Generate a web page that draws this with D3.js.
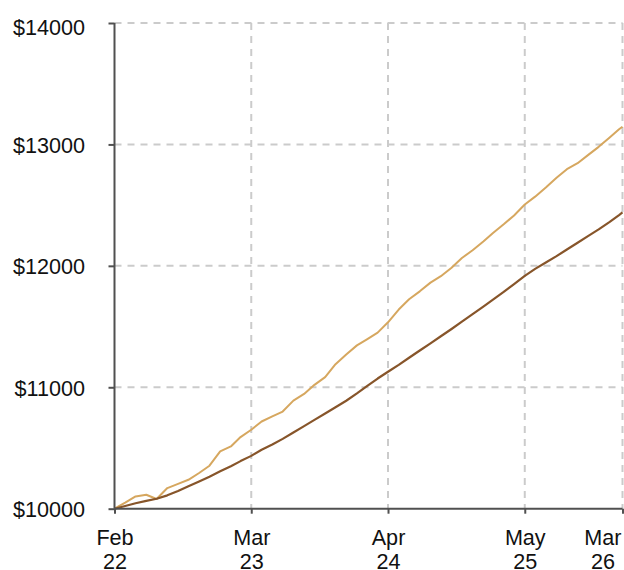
<!DOCTYPE html>
<html>
<head>
<meta charset="utf-8">
<script src="https://cdn.jsdelivr.net/npm/d3@7"></script>
<style>
  html, body { margin: 0; padding: 0; background: #fff; }
  svg { display: block; }
</style>
</head>
<body>
<script>
// ---- Data ----
const dates = [
  "2022-02-28","2022-03-31","2022-04-30","2022-05-31","2022-06-30","2022-07-31","2022-08-31","2022-09-30","2022-10-31","2022-11-30","2022-12-31",
  "2023-01-31","2023-02-28","2023-03-31","2023-04-30","2023-05-31","2023-06-30","2023-07-31","2023-08-31","2023-09-30","2023-10-31","2023-11-30","2023-12-31",
  "2024-01-31","2024-02-29","2024-03-31","2024-04-30","2024-05-31","2024-06-30","2024-07-31","2024-08-31","2024-09-30","2024-10-31","2024-11-30","2024-12-31",
  "2025-01-31","2025-02-28","2025-03-31","2025-04-30","2025-05-31","2025-06-30","2025-07-31","2025-08-31","2025-09-30","2025-10-31","2025-11-30","2025-12-31",
  "2026-01-31","2026-02-28","2026-03-10"
];
const seriesLight = [
  10000,10050,10101,10115,10080,10170,10205,10238,10294,10354,10472,
  10513,10590,10650,10718,10760,10800,10890,10945,11020,11084,11190,11270,
  11345,11395,11450,11535,11640,11725,11790,11862,11915,11985,12065,12128,
  12200,12270,12342,12415,12505,12570,12645,12725,12796,12845,12912,12980,
  13055,13125,13146
];
const seriesDark = [
  10000,10022,10045,10065,10082,10110,10145,10184,10225,10264,10308,
  10350,10392,10435,10486,10528,10575,10628,10680,10732,10784,10835,10889,
  10950,11010,11072,11128,11185,11243,11303,11362,11420,11480,11540,11602,
  11665,11722,11785,11850,11918,11975,12027,12080,12135,12190,12245,12300,
  12360,12418,12440
];
const xTickDates = ["2022-02-28","2023-03-31","2024-04-30","2025-05-31","2026-03-10"];
const xTickLabels = [["Feb","22"],["Mar","23"],["Apr","24"],["May","25"],["Mar","26"]];
const yTicks = [10000, 11000, 12000, 13000, 14000];

// ---- Layout ----
const W = 624, H = 570;
const pLeft = 114.5, pRight = 622.5, pTop = 23, pBottom = 508.7;
const FONT = "'Liberation Sans', Arial, sans-serif";
const FS = 21.6;

const parse = d3.utcParse("%Y-%m-%d");
const dateObjs = dates.map(parse);

const x = d3.scaleUtc()
  .domain([dateObjs[0], dateObjs[dateObjs.length - 1]])
  .range([pLeft, pRight]);
const y = d3.scaleLinear().domain([10000, 14000]).range([pBottom, pTop]);

const svg = d3.select("body").append("svg").attr("width", W).attr("height", H);

// Grid
const grid = svg.append("g").attr("stroke", "#cbcbcb").attr("stroke-width", 2)
  .attr("stroke-dasharray", "7,6").attr("fill", "none");
yTicks.filter(v => v !== 10000).forEach(v => {
  grid.append("line").attr("x1", pLeft).attr("x2", pRight).attr("y1", y(v)).attr("y2", y(v));
});
xTickDates.slice(1).forEach(d => {
  const xv = x(parse(d));
  grid.append("line").attr("x1", xv).attr("x2", xv).attr("y1", pTop).attr("y2", pBottom);
});

// Lines
const mk = vals => d3.line().x((d, i) => x(dateObjs[i])).y(d => y(d))(vals);
svg.append("path").attr("d", mk(seriesLight)).attr("fill", "none")
  .attr("stroke", "#d6a75f").attr("stroke-width", 2).attr("stroke-linejoin", "round");
svg.append("path").attr("d", mk(seriesDark)).attr("fill", "none")
  .attr("stroke", "#87552a").attr("stroke-width", 2.2).attr("stroke-linejoin", "round");

// Y axis
const yAxis = d3.axisLeft(y).tickValues(yTicks).tickSize(6).tickPadding(23.5)
  .tickFormat(v => "$" + v);
const gy = svg.append("g").attr("transform", `translate(${pLeft},0)`).call(yAxis);
gy.select(".domain").attr("stroke", "#505050").attr("stroke-width", 2).attr("d", `M0,${pTop}V${pBottom}`);
gy.selectAll(".tick line").attr("stroke", "#505050").attr("stroke-width", 2);
gy.selectAll(".tick text").attr("font-family", FONT).attr("font-size", FS)
  .attr("fill", "#111").attr("dy", "0.36em")
  .attr("y", function(v) { return Math.max(0, 26.8 - y(v)); });

// X axis
const xAxis = d3.axisBottom(x).tickValues(xTickDates.map(parse)).tickSize(5).tickFormat("");
const gx = svg.append("g").attr("transform", `translate(0,${pBottom})`).call(xAxis);
gx.select(".domain").attr("stroke", "#505050").attr("stroke-width", 2).attr("d", `M${pLeft},0H${pRight}`);
gx.selectAll(".tick line").attr("stroke", "#505050").attr("stroke-width", 2);
gx.selectAll(".tick text").remove();
gx.selectAll(".tick").each(function(d, i) {
  const t = d3.select(this).append("text")
    .attr("font-family", FONT).attr("font-size", FS).attr("fill", "#111")
    .attr("text-anchor", "middle").attr("stroke", "none");
  xTickLabels[i].forEach((s, j) => {
    t.append("tspan").attr("x", 0).attr("y", 36.8 + j * 23.6).text(s);
  });
  const bb = t.node().getBBox();
  const absRight = x(parse(xTickDates[i])) + bb.x + bb.width;
  if (absRight > W - 3) t.attr("transform", `translate(${(W - 3) - absRight},0)`);
});
</script>
</body>
</html>
